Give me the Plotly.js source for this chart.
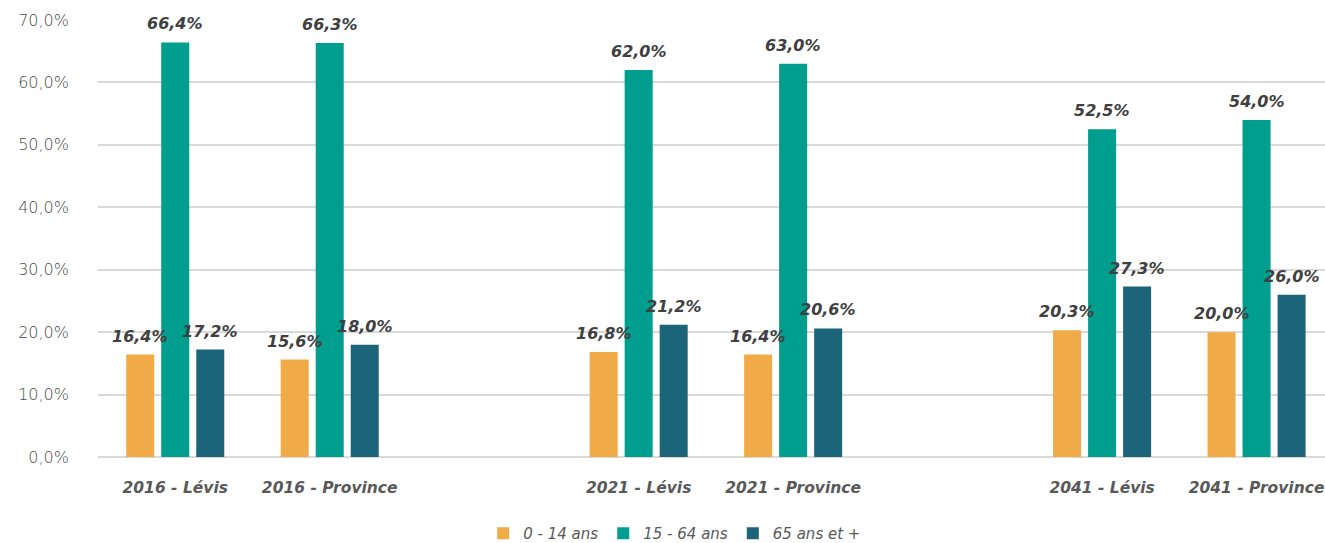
<!DOCTYPE html>
<html>
<head>
<meta charset="utf-8">
<script src="https://cdn.plot.ly/plotly-3.0.1.min.js"></script>
<style>html,body{margin:0;padding:0;background:#fff;}#chart{width:1325px;height:543px;}</style>
</head>
<body>
<div id="chart"></div>
<script>
var categories = ['2016 - Lévis', '2016 - Province', '2021 - Lévis', '2021 - Province', '2041 - Lévis', '2041 - Province'];
var categoryOrder = ['2016 - Lévis', '2016 - Province', '\u200b', '2021 - Lévis', '2021 - Province', '\u200b\u200b', '2041 - Lévis', '2041 - Province'];
var seriesNames = ['0 - 14 ans', '15 - 64 ans', '65 ans et +'];
var age0to14 = [16.4, 15.6, 16.8, 16.4, 20.3, 20.0];
var age15to64 = [66.4, 66.3, 62.0, 63.0, 52.5, 54.0];
var age65plus = [17.2, 18.0, 21.2, 20.6, 27.3, 26.0];
var colors = ['#F0AA48', '#009E8E', '#1C6479'];
var yTicks = [0, 10, 20, 30, 40, 50, 60, 70];
var yTickText = yTicks.map(function (v) { return v.toFixed(1).replace('.', ',') + '%'; });

var W = 1325, H = 543;
var margin = { l: 98, r: 0, t: 20, b: 86, autoexpand: false };
var xRange = [-0.5, 7.443];
var bargap = 0.32, bargroupgap = 0.2;

var seriesValues = [age0to14, age15to64, age65plus];
var traces = seriesValues.map(function (vals, i) {
  return {
    type: 'bar',
    name: seriesNames[i],
    x: categories,
    y: vals,
    marker: { color: colors[i] },
    hoverinfo: 'skip'
  };
});

// data labels placed over each bar (group offset derived from the bar layout settings)
var pxPerCat = (W - margin.l - margin.r) / (xRange[1] - xRange[0]);
var slot = pxPerCat * (1 - bargap) / seriesValues.length;
var annotations = [];
seriesValues.forEach(function (vals, i) {
  vals.forEach(function (v, j) {
    annotations.push({
      x: categories[j],
      y: v,
      xref: 'x',
      yref: 'y',
      text: v.toFixed(1).replace('.', ',') + '%',
      showarrow: false,
      xanchor: 'center',
      yanchor: 'bottom',
      xshift: (i - (seriesValues.length - 1) / 2) * slot,
      yshift: 7,
      font: { family: 'DejaVu Sans', size: 16, color: '#404040', weight: 'bold', style: 'italic' }
    });
  });
});

var layout = {
  width: W,
  height: H,
  margin: margin,
  paper_bgcolor: '#ffffff',
  plot_bgcolor: '#ffffff',
  separators: ', ',
  barmode: 'group',
  bargap: bargap,
  bargroupgap: bargroupgap,
  showlegend: true,
  annotations: annotations,
  legend: {
    orientation: 'h',
    x: 0.47,
    xanchor: 'center',
    y: -0.175,
    yanchor: 'middle',
    font: { family: 'DejaVu Sans', size: 15, color: '#595959', style: 'italic' },
    itemwidth: 30,
    tracegroupgap: 0
  },
  xaxis: {
    type: 'category',
    categoryorder: 'array',
    categoryarray: categoryOrder,
    range: xRange,
    showgrid: false,
    zeroline: false,
    showline: false,
    ticks: '',
    ticklabelstandoff: 19,
    tickfont: { family: 'DejaVu Sans', size: 15.5, color: '#595959', weight: 'bold', style: 'italic' }
  },
  yaxis: {
    range: [0, 70],
    tickmode: 'array',
    tickvals: yTicks,
    ticktext: yTickText,
    showgrid: true,
    gridcolor: '#d9d9d9',
    gridwidth: 2,
    zeroline: true,
    zerolinecolor: '#d9d9d9',
    zerolinewidth: 2,
    showline: false,
    ticks: '',
    ticklabelstandoff: 28,
    tickfont: { family: 'DejaVu Sans', size: 16, color: '#4a4a4a', weight: 300 }
  }
};

Plotly.newPlot('chart', traces, layout, { staticPlot: true, displayModeBar: false });
</script>
</body>
</html>
